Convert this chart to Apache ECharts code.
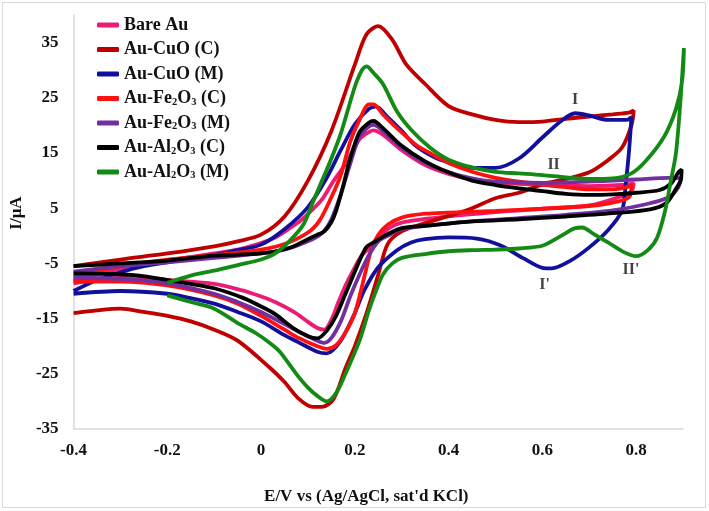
<!DOCTYPE html>
<html><head><meta charset="utf-8">
<script src="https://cdn.jsdelivr.net/npm/echarts@6/dist/echarts.min.js"></script>
<style>html,body{margin:0;padding:0;background:#fff}#c{width:709px;height:511px}</style>
</head><body><div id="c"></div>
<script>
const seriesNames = ['Bare Au','Au-CuO (C)','Au-CuO (M)','Au-Fe2O3 (C)','Au-Fe2O3 (M)','Au-Al2O3 (C)','Au-Al2O3 (M)'];
const xTicks = [-0.4,-0.2,0,0.2,0.4,0.6,0.8];
const yTicks = [-35,-25,-15,-5,5,15,25,35];

const bareAuFwd = [[-0.4,-8.2],[-0.35,-7],[-0.3,-6],[-0.2,-4.5],[-0.1,-3.2],[-0.05,-2.5],[0,-1.3],[0.03,-0.3],[0.06,1.3],[0.085,2.8],[0.11,4.8],[0.13,6.6],[0.155,10],[0.18,13],[0.21,17.5],[0.23,18.8],[0.24,19.1],[0.26,18.3],[0.3,15.5],[0.35,12.8],[0.4,11.2],[0.45,10.2],[0.5,9.7],[0.6,9.2],[0.7,9.0],[0.77,9.2],[0.795,9.5]];
const bareAuRev = [[0.79,8],[0.77,7.2],[0.7,5.5],[0.6,4.9],[0.5,4.3],[0.4,3.5],[0.3,2.4],[0.27,1.2],[0.25,-0.6],[0.235,-2],[0.215,-3.5],[0.195,-6.5],[0.18,-9],[0.165,-12],[0.15,-15.2],[0.135,-17],[0.12,-16.7],[0.1,-15.6],[0.07,-13.8],[0.03,-12],[0,-11],[-0.04,-9.9],[-0.1,-8.7],[-0.2,-8],[-0.26,-7.5],[-0.33,-7.8],[-0.4,-8.6]];

const cuoCFwd = [[-0.4,-5.5],[-0.3,-4.3],[-0.2,-3.2],[-0.1,-1.9],[-0.05,-1.0],[0,0.2],[0.05,3.5],[0.1,10],[0.15,19],[0.2,31],[0.225,36.5],[0.25,38],[0.28,35.5],[0.31,31],[0.35,27.5],[0.4,23.5],[0.45,22],[0.5,21],[0.55,20.6],[0.6,20.7],[0.65,21.2],[0.7,21.6],[0.75,22],[0.785,22.3],[0.795,22.7]];
const cuoCRev = [[0.79,20],[0.77,16],[0.74,13.7],[0.7,11.5],[0.65,10.3],[0.6,9.3],[0.55,7.8],[0.5,6.8],[0.45,5],[0.4,3.6],[0.35,2.3],[0.3,0.8],[0.27,-1.5],[0.25,-7],[0.225,-14],[0.2,-20],[0.18,-24],[0.155,-29.5],[0.13,-31],[0.11,-31],[0.08,-29.5],[0.05,-26.5],[0.02,-24],[-0.05,-19],[-0.1,-17],[-0.15,-15.5],[-0.2,-14.5],[-0.25,-13.8],[-0.3,-13.2],[-0.35,-13.5],[-0.4,-14]];

const cuoMFwd = [[-0.4,-10],[-0.35,-8],[-0.3,-6.6],[-0.25,-5.5],[-0.2,-4.8],[-0.1,-3.5],[-0.05,-2.6],[0,-1.6],[0.05,1.2],[0.1,5.2],[0.14,10.5],[0.17,15.5],[0.2,20.2],[0.23,23],[0.245,23.4],[0.27,21.5],[0.3,19],[0.33,16.3],[0.37,14.2],[0.4,13.3],[0.45,12.3],[0.5,12.3],[0.55,14],[0.6,17.8],[0.64,20.8],[0.67,22.2],[0.7,21.8],[0.74,21],[0.78,21],[0.79,21.5]];
const cuoMRev = [[0.785,15.5],[0.778,9.5],[0.77,4.6],[0.74,1],[0.7,-2.1],[0.66,-4.5],[0.62,-5.9],[0.6,-5.8],[0.56,-4.1],[0.51,-1.7],[0.46,-0.5],[0.4,-0.3],[0.35,-0.6],[0.32,-1.2],[0.29,-2.6],[0.25,-5.7],[0.22,-9.9],[0.2,-14],[0.17,-19],[0.14,-21.3],[0.12,-21],[0.08,-19.3],[0.05,-18],[0,-15.5],[-0.05,-13.8],[-0.1,-12.3],[-0.15,-11.3],[-0.2,-10.5],[-0.3,-10],[-0.4,-10.5]];

const fe2o3CFwd = [[-0.4,-7.5],[-0.3,-5.5],[-0.2,-4.3],[-0.1,-3.5],[0,-2.5],[0.05,-1.5],[0.1,0.6],[0.125,2.8],[0.15,7],[0.17,11],[0.19,17],[0.21,21],[0.23,23.8],[0.24,23.8],[0.26,22],[0.29,19.5],[0.33,16.5],[0.36,15],[0.4,13.2],[0.45,11.6],[0.5,10.5],[0.55,9.8],[0.6,9.3],[0.65,8.8],[0.7,8.4],[0.75,8.4],[0.78,8.8],[0.79,9.2]];
const fe2o3CRev = [[0.785,7],[0.75,6],[0.7,5.4],[0.6,4.9],[0.5,4.5],[0.4,4.2],[0.35,4],[0.3,3.3],[0.27,2],[0.25,0.2],[0.235,-2.5],[0.22,-7.5],[0.2,-14],[0.18,-17.5],[0.16,-19.8],[0.14,-20.5],[0.12,-20],[0.08,-18.5],[0.05,-17],[0,-14.5],[-0.05,-12.3],[-0.1,-10.8],[-0.2,-9],[-0.3,-8.3],[-0.4,-8.3]];

const fe2o3MFwd = [[-0.4,-6.5],[-0.3,-5.5],[-0.2,-4.8],[-0.1,-4],[0,-3.2],[0.05,-2.5],[0.1,-1],[0.13,0.5],[0.15,3],[0.17,7.5],[0.19,13],[0.21,18],[0.23,19.8],[0.24,20.1],[0.26,19],[0.3,16],[0.35,13.2],[0.4,11.5],[0.45,10.4],[0.5,9.8],[0.6,9.6],[0.7,9.8],[0.8,10.2],[0.87,10.5],[0.895,10.4]];
const fe2o3MRev = [[0.89,8.8],[0.87,7],[0.83,5.9],[0.75,4.6],[0.65,3.8],[0.55,3.2],[0.45,2.6],[0.35,1.8],[0.3,1.2],[0.27,0],[0.25,-1],[0.23,-3.5],[0.21,-7],[0.19,-11],[0.17,-15.5],[0.15,-18.5],[0.135,-19.4],[0.12,-19],[0.09,-17.8],[0.05,-16],[0,-13.8],[-0.05,-12],[-0.1,-10.5],[-0.2,-8.6],[-0.3,-7.8],[-0.4,-7.6]];

const al2o3CFwd = [[-0.4,-5.5],[-0.3,-5],[-0.2,-4.5],[-0.1,-3.6],[0,-3.2],[0.06,-2.2],[0.1,-0.6],[0.12,0.2],[0.135,0.8],[0.15,2.5],[0.16,4.5],[0.175,9],[0.19,14],[0.21,18.8],[0.23,20.5],[0.24,20.8],[0.26,19.5],[0.3,16.3],[0.35,13.5],[0.4,11.5],[0.45,10],[0.5,9.2],[0.55,8.6],[0.6,8.1],[0.65,7.6],[0.7,7.4],[0.75,7.5],[0.8,7.8],[0.85,8.3],[0.875,9.5],[0.89,11.5],[0.897,12]];
const al2o3CRev = [[0.895,10],[0.885,8.5],[0.865,6],[0.83,4.8],[0.75,4.1],[0.65,3.5],[0.55,3],[0.45,2.6],[0.35,1.8],[0.3,1.4],[0.27,0.3],[0.24,-1.2],[0.225,-2],[0.21,-4.5],[0.19,-8.5],[0.18,-10.5],[0.16,-14.5],[0.14,-17.2],[0.12,-18.6],[0.1,-18.2],[0.07,-16.8],[0.03,-14.2],[0,-12.8],[-0.04,-11.2],[-0.1,-9.5],[-0.15,-8.7],[-0.2,-8],[-0.26,-7.2],[-0.33,-6.9],[-0.4,-6.8]];

const al2o3MFwd = [[-0.2,-8.5],[-0.15,-7.2],[-0.1,-6.3],[-0.05,-5.3],[0,-4.3],[0.03,-3.2],[0.06,-1],[0.09,2],[0.11,6],[0.13,10],[0.15,14],[0.17,18.5],[0.2,27],[0.215,30],[0.225,30.7],[0.24,29.5],[0.26,27.5],[0.29,22.5],[0.32,19.2],[0.36,16],[0.4,13.8],[0.45,12.4],[0.5,11.6],[0.55,11.3],[0.6,11],[0.65,10.6],[0.7,10.3],[0.75,10.4],[0.79,11.3],[0.82,13.5],[0.86,18],[0.885,23],[0.898,28],[0.902,34]];
const al2o3MRev = [[0.895,25],[0.885,15],[0.873,9.5],[0.862,4.6],[0.845,-0.3],[0.825,-2.6],[0.8,-3.7],[0.775,-3],[0.74,-1.2],[0.71,0.3],[0.685,1.5],[0.67,1.4],[0.65,0.5],[0.63,-0.5],[0.6,-1.8],[0.55,-2.3],[0.5,-2.5],[0.45,-2.6],[0.4,-2.8],[0.35,-3.3],[0.3,-4],[0.28,-5],[0.26,-7],[0.245,-10],[0.23,-13.5],[0.21,-19],[0.18,-25],[0.16,-28.5],[0.14,-30],[0.12,-29],[0.1,-27.5],[0.075,-25],[0.04,-21],[0.02,-19.5],[-0.01,-17.7],[-0.05,-15.8],[-0.1,-13.2],[-0.15,-12],[-0.2,-10.8]];

const peakLabels = ['I','II',"I'","II'"];
const peakLabelPos = [[0.67,24.6],[0.624,12.9],[0.605,-8.8],[0.789,-6.2]];

const colors = ['#ec1c73','#c00000','#10109c','#ff1010','#7030a0','#000000','#138a13'];
const loops = [
  bareAuFwd.concat(bareAuRev), cuoCFwd.concat(cuoCRev), cuoMFwd.concat(cuoMRev),
  fe2o3CFwd.concat(fe2o3CRev), fe2o3MFwd.concat(fe2o3MRev),
  al2o3CFwd.concat(al2o3CRev), al2o3MFwd.concat(al2o3MRev)
];

const FONT = '"Liberation Serif","Times New Roman",serif';
const chart = echarts.init(document.getElementById('c'));
const series = seriesNames.map((n,i)=>({
  name:n, type:'line', data:loops[i], showSymbol:false, smooth:0.3,
  lineStyle:{color:colors[i], width:3.8}, itemStyle:{color:colors[i]}, z:2+i
}));
series.push({
  type:'scatter', symbolSize:0, silent:true,
  data: peakLabels.map((t,i)=>({name:t, value:peakLabelPos[i]})),
  label:{show:true, position:'inside', formatter:p=>p.name, color:'#111', fontFamily:FONT, fontWeight:'bold', fontSize:16}
});
function fmtSub(name){
  return name.replace(/([A-Za-z])(\d)/g, (m,a,d)=>a+'{sub|'+d+'}');
}
chart.setOption({
  animation:false,
  backgroundColor:'#fff',
  grid:{left:62,right:26,top:15,bottom:82},
  legend:{
    data:seriesNames, orient:'vertical', left:92, top:10, itemWidth:22, itemHeight:5, itemGap:4.5,
    icon:'roundRect',
    formatter:n=>fmtSub(n),
    textStyle:{fontFamily:FONT, fontWeight:'bold', fontSize:18, color:'#111', lineHeight:20,
      rich:{sub:{fontFamily:FONT, fontWeight:'bold', fontSize:10.5, color:'#111', padding:[7,0,0,0]}}}
  },
  xAxis:{type:'value', min:-0.4, max:0.9, interval:0.2,
    name:"E/V vs (Ag/AgCl, sat'd KCl)", nameLocation:'middle', nameGap:59,
    nameTextStyle:{fontFamily:FONT, fontWeight:'bold', fontSize:17, color:'#111', padding:[0,24,0,0]},
    axisLine:{onZero:false, lineStyle:{color:'#d9d9d9', width:1.5}}, axisTick:{show:false}, splitLine:{show:false},
    axisLabel:{showMaxLabel:false, margin:13, fontFamily:FONT, fontWeight:'bold', fontSize:17, color:'#111',
      formatter:v=>{const r=Math.round(v*10)/10; return xTicks.indexOf(r)>=0?String(r):'';}}
  },
  yAxis:{type:'value', min:-35, max:40, interval:10,
    name:'I/μA', nameLocation:'middle', nameGap:38, nameRotate:90,
    nameTextStyle:{fontFamily:FONT, fontWeight:'bold', fontSize:17, color:'#111', padding:[0,0,0,18]},
    axisLine:{show:true, onZero:false, lineStyle:{color:'#d9d9d9', width:1.5}}, axisTick:{show:false}, splitLine:{show:false},
    axisLabel:{showMaxLabel:false, margin:15, fontFamily:FONT, fontWeight:'bold', fontSize:17, color:'#111',
      formatter:v=>yTicks.indexOf(v)>=0?String(v):''}
  },
  graphic:[{type:'rect', shape:{x:2.5,y:2.5,width:703,height:505}, style:{fill:null, stroke:'#d9d9d9', lineWidth:1}, silent:true, z:-1}],
  series:series
});
</script></body></html>
